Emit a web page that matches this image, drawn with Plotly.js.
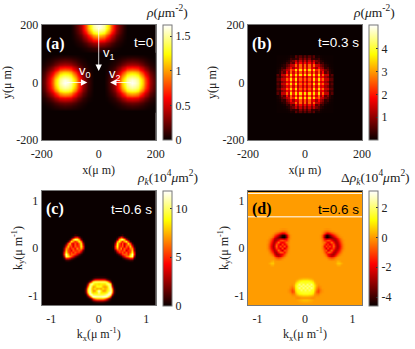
<!DOCTYPE html>
<html><head><meta charset="utf-8">
<script src="https://cdn.plot.ly/plotly-3.0.1.min.js"></script>
<style>html,body{margin:0;padding:0;background:#fff}#g{width:415px;height:349px}</style>
</head><body><div id="g"></div>
<script>
// Panel (a): one quadrant of a cloud's density (all three clouds share it)
const aQuad=[
[1.65,1.6,1.5,1.32,1.1,.85,.6,.4,.25,.14,.07,0],
[1.6,1.56,1.47,1.3,1.08,.83,.58,.39,.24,.13,.065,0],
[1.5,1.47,1.39,1.22,1,.78,.56,.36,.22,.12,.06,0],
[1.32,1.3,1.22,1.05,.85,.65,.46,.31,.19,.1,.05,0],
[1.1,1.08,1,.85,.67,.52,.37,.24,.15,.08,.04,0],
[.85,.83,.78,.65,.52,.39,.28,.18,.11,.06,.03,0],
[.6,.58,.56,.46,.37,.28,.19,.12,.07,.04,.015,0],
[.4,.39,.36,.31,.24,.18,.12,.08,.05,.025,.01,0],
[.25,.24,.22,.19,.15,.11,.07,.05,.03,.01,0,0],
[.14,.13,.12,.1,.08,.06,.04,.025,.01,0,0,0],
[.07,.065,.06,.05,.04,.03,.015,.01,0,0,0,0],
[0,0,0,0,0,0,0,0,0,0,0,0]
];
const aOffset=[-99,-90,-81,-72,-63,-54,-45,-36,-27,-18,-9,0,9,18,27,36,45,54,63,72,81,90,99];
const aCentersX=[-118,0,118], aCentersY=[0,200,0];
const aFull=(()=>{const rows=aQuad.map(r=>r.slice(1).reverse().concat(r));return rows.slice(1).reverse().concat(rows);})();
// Panel (b): lattice in the central cloud
const bX=[-96,-88,-80,-72,-64,-56,-48,-40,-32,-24,-16,-8,0,8,16,24,32,40,48,56,64,72,80,88,96];
const bY=[-101,-93,-85,-77,-69,-61,-53,-45,-37,-29,-21,-13,-5,3,11,19,27,35,43,51,59,67,75,83,91];
const bHalf=[
[2.6,1.7,2.6,1.7,3.5,2,3.5,2,2.6,1.4,1.4,.4,.6],
[2.1,1.3,2.1,1.3,2.5,1.5,2.5,1.5,1.8,1.1,.9,.3,.4],
[2.6,1.7,2.6,1.7,3.5,2,3.5,2,2.6,1.4,1.4,.6,.6],
[2.1,1.3,2.1,1.5,2.5,1.5,2.5,1.5,1.8,1.1,.9,.3,.4],
[3.5,2,3.5,2,3.5,2,3.5,1.5,2.6,1.4,1.4,.3,.6],
[2.5,1.5,2.5,1.5,2.5,1.5,2.5,1.1,1.8,.6,.9,.25,.1],
[3.5,2,3.5,2,3.5,2,2.6,1.4,1.4,.8,.6,.2,.1],
[2.5,1.5,2.5,1.5,1.8,1.1,1.8,1.1,.9,.3,.4,.1,.05],
[2.6,1.4,2.6,1.4,2.6,1.4,1.4,.8,.6,.25,.15,.05,.03],
[1.8,1.1,1.8,1.1,1.8,.6,.9,.3,.4,.1,.05,.03,.02],
[1.4,.8,1.4,.8,1.4,.8,.6,.25,.15,.05,.03,.02,.02],
[.9,.5,.9,.3,.4,.25,.4,.1,.05,.03,.02,.02,.02],
[.6,.3,.6,.3,.6,.1,.15,.05,.03,.02,.02,.02,.02]
];
const bRows=bHalf.map(r=>r.slice(1).reverse().concat(r));
const bZ=bRows.slice(1).reverse().concat(bRows);
// Panel (c): momentum density patches
const cSideX=[-.78,-.74,-.7,-.66,-.62,-.58,-.54,-.5,-.46,-.42,-.38,-.34,-.3];
const cSideXR=[.3,.34,.38,.42,.46,.5,.54,.58,.62,.66,.7,.74,.78];
const cSideY=[.27,.226,.182,.138,.094,.05,.006,-.038,-.082,-.126,-.17,-.214,-.258,-.302];
const cSideZ=[
[0,0,0,0,0,0,0,.6,.3,0,0,0,0],
[0,0,0,0,0,.3,1.5,4,5,2.5,.4,0,0],
[0,0,0,0,.8,3,8,10.5,10,7.5,2,.1,0],
[0,0,0,1,5,9,7,4.5,6,9,7,1,0],
[0,0,1,5.5,8.5,5,3.5,6,4,6,9,3,.1],
[0,.7,4.5,8,5,6,3.5,6,5,5,9,5,.3],
[0,2,7,6.5,4,5,6,4,7,5,7.5,4.5,.2],
[0,2.5,8,5.5,5,3.5,6,5,5,6,5,1.5,0],
[.1,4,9,6,4.5,6,4.5,6,5,5,2.5,.4,0],
[.1,4.5,11,8,5,6,6,5,3.5,1.5,.4,0,0],
[0,2.5,10,9,7,6,4,2,.8,.2,0,0,0],
[0,.7,4,4,3,2,1,.3,0,0,0,0,0],
[0,0,.6,.7,.4,.2,0,0,0,0,0,0,0],
[0,0,0,0,0,0,0,0,0,0,0,0,0]
];
const cLowX=[-.32,-.28,-.24,-.2,-.16,-.12,-.08,-.04,0,.04,.08,.12,.16,.2,.24,.28,.32,.36];
const cLowY=[-.62,-.665,-.71,-.755,-.8,-.845,-.89,-.935,-.98,-1.025,-1.07,-1.115,-1.16];
const cLowZ=[
[0,0,0,0,0,.1,.3,.4,.4,.4,.4,.3,.1,0,0,0,0,0],
[0,0,0,.1,.8,2,4,4.5,4.5,4.5,4.5,4,2,.8,.2,0,0,0],
[0,0,.2,2,6,9,10,10,10,10,10,10,9,6,2,.2,0,0],
[0,0,2,9,11,10,8.5,8.5,8,8.5,8.5,8.5,10,10.5,8,1.5,0,0],
[0,.5,6,11,9,7,7.5,9,9,9,7.5,7,7.5,10,10.5,5,.4,0],
[0,1.5,8.5,11,8,7.5,8.5,7,7.5,7,8.5,7.5,8,9.5,11,8,1,0],
[0,2,9,11,8.5,7,7,9,11.5,9,7,7,8.5,9.5,11,9,1.5,0],
[0,1.5,8,11.5,9,8,8.5,8.5,10.5,8.5,8.5,8.5,9,11,11.5,8,1.2,0],
[0,.2,4.5,10.5,11.5,10,9.5,9.5,9.5,9.5,9.5,10,11,11.5,9.5,4,.4,0],
[0,0,1,4.5,9.5,11.5,11.5,11,11,11,11.5,11.5,11,8.5,4,.6,0,0],
[0,0,0,.4,2,4.5,6.5,7.5,7.5,7.5,7.5,6.5,4.5,2,.5,0,0,0],
[0,0,0,0,.1,.4,.8,1.2,1.3,1.3,1.2,.8,.4,.1,0,0,0,0],
[0,0,0,0,0,0,0,0,0,0,0,0,0,0,0,0,0,0]
];
// Panel (d): momentum density difference patches
const dSideX=[-.84,-.8,-.76,-.72,-.68,-.64,-.6,-.56,-.52,-.48,-.44,-.4,-.36,-.32,-.28];
const dSideXR=[.28,.32,.36,.4,.44,.48,.52,.56,.6,.64,.68,.72,.76,.8,.84];
const dSideY=[.4,.36,.32,.28,.24,.2,.16,.12,.08,.04,0,-.04,-.08,-.12,-.16,-.2,-.24,-.28,-.32,-.36,-.4];
const dSideZ=[
[0,0,0,0,0,0,0,0,-.05,-.1,-.1,-.05,0,0,0],
[0,0,0,0,0,0,-.1,-.2,-.4,-.6,-.6,-.4,-.1,0,0],
[0,0,0,0,-.1,-.3,-.6,-1,-1.6,-2.1,-1.9,-1,-.3,0,0],
[0,0,0,-.1,-.4,-.9,-1.6,-2.4,-3.4,-4.3,-4.4,-2.8,-.9,-.1,0],
[0,0,-.1,-.3,-.9,-1.7,-2.5,-3.2,-3.8,-4.6,-4.6,-3.2,-1,-.1,0],
[0,0,-.2,-.7,-1.5,-2.4,-2.8,-2.9,-2.7,-3,-3.2,-2.2,-.7,-.1,0],
[0,-.1,-.4,-1.1,-2.1,-2.8,-2.6,-1.9,-1,-.8,-1.2,-1.4,-.5,0,0],
[0,-.1,-.6,-1.5,-2.5,-2.7,-1.7,-.4,-1.7,-2,-1.5,-.5,-.3,0,0],
[0,-.2,-.8,-1.8,-2.7,-2.4,-.7,-1.6,-2.3,-.9,-2,-1.2,-.2,0,0],
[0,-.2,-.9,-2,-2.8,-2.1,-.4,-2,-.8,-2,-.7,-2,-.4,0,0],
[0,-.2,-.8,-1.8,-2.7,-2.4,-1,-1.6,-2.2,-.7,-2.5,-1.3,-.4,0,0],
[0,-.1,-.5,-1.4,-2.3,-2.7,-2,-.5,-1.6,-2.5,-.8,-1,-.2,0,0],
[0,0,-.3,-.9,-1.7,-2.6,-2.7,-1.6,-.6,-.8,-1.7,-.7,-.1,0,0],
[0,0,-.1,-.4,-1,-2,-2.8,-2.7,-2.2,-1.8,-1,-.3,0,0,0],
[0,0,0,-.1,-.4,-1.1,-2.1,-2.5,-2.1,-1.2,-.5,-.1,0,0,0],
[0,0,0,0,-.1,-.4,-.9,-1.2,-.9,-.5,-.2,0,0,0,0],
[0,0,0,0,0,-.1,-.3,-.4,-.3,-.1,0,0,0,0,0],
[0,0,0,.2,.3,0,0,0,0,0,0,0,0,0,0],
[0,0,.2,.5,.5,.1,0,0,0,0,0,0,0,0,0],
[0,0,0,.2,.2,0,0,0,0,0,0,0,0,0,0],
[0,0,0,0,0,0,0,0,0,0,0,0,0,0,0]
];
const dLowX=[-.4,-.36,-.32,-.28,-.24,-.2,-.16,-.12,-.08,-.04,0,.04,.08,.12,.16,.2,.24,.28,.32,.36,.4];
const dLowY=[-.6,-.64,-.68,-.72,-.76,-.8,-.84,-.88,-.92,-.96,-1,-1.04,-1.08,-1.12,-1.16];
const dLowZ=[
[0,0,0,0,0,0,0,0,0,0,0,0,0,0,0,0,0,0,0,0,0],
[0,0,0,0,0,0,.05,.2,.3,.4,.4,.4,.3,.2,.05,0,0,0,0,0,0],
[0,0,0,0,0,.1,.5,.9,1.1,1.2,1.2,1.2,1.1,.9,.5,.1,0,0,0,0,0],
[0,0,0,0,.05,.5,1.1,1.4,1.6,1.4,1.4,1.4,1.6,1.4,1.1,.5,.05,0,0,0,0],
[0,0,0,-.1,.2,.9,1.4,2.3,1.4,2.3,1.4,2.3,1.4,2.3,1.4,.9,.2,-.1,0,0,0],
[0,0,-.1,-.2,.2,1,1.6,1.4,2.3,1.4,2.3,1.4,2.3,1.4,1.6,1,.2,-.2,-.1,0,0],
[0,0,-.2,-.5,0,.9,1.5,2.3,1.4,2.3,1.4,2.3,1.4,2.3,1.5,.9,0,-.5,-.2,0,0],
[0,-.1,-.4,-.9,-.3,.7,1.3,1.4,2,1.4,2,1.4,2,1.4,1.3,.7,-.3,-.9,-.4,-.1,0],
[0,-.1,-.3,-1,-.6,.4,1.1,1.3,1.4,1.5,1.5,1.5,1.4,1.3,1.1,.4,-.6,-1,-.3,-.1,0],
[0,0,-.1,-.4,-.3,.05,.7,1.1,1.2,1.3,1.3,1.3,1.2,1.1,.7,.05,-.3,-.4,-.1,0,0],
[0,0,0,-.1,-.1,-.1,.1,.3,.4,.5,.5,.5,.4,.3,.1,-.1,-.1,-.1,0,0,0],
[0,0,0,0,0,-.1,-.2,-.2,-.1,-.1,-.1,-.1,-.1,-.2,-.2,-.1,0,0,0,0,0],
[0,0,0,0,0,0,.1,.2,.3,.4,.4,.4,.3,.2,.1,0,0,0,0,0,0],
[0,0,0,0,0,0,0,.1,.15,.2,.2,.2,.15,.1,0,0,0,0,0,0,0],
[0,0,0,0,0,0,0,0,0,0,0,0,0,0,0,0,0,0,0,0,0]
];
// Flat backgrounds of the panels
const posEdge=[-200,200], momEdge=[-1.2,1.2], flat=[[0,0],[0,0]];
const hot=[[0,'#0a0000'],[.365,'#ff0000'],[.746,'#ffff00'],[1,'#ffffff']];
const posTicks=[0,200,-200], momTicks=[-1,0,1];
const aTicks=[0,.5,1,1.5], bTicks=[1,2,3,4], cTicks=[0,5,10], dTicks=[-4,-2,0,2];
const rev=m=>m.map(r=>[...r].reverse());
const W=415,H=349, serif='Liberation Serif, serif', sans='Liberation Sans, sans-serif', ink='#222';
const px=v=>v/W, py=v=>1-v/H;
const cb=(left,top,vals)=>({x:px(left),xanchor:'left',y:py(top),yanchor:'top',lenmode:'pixels',len:115,thicknessmode:'pixels',thickness:9,xpad:0,ypad:0,outlinecolor:'#777',outlinewidth:1,ticks:'inside',ticklen:2,tickcolor:'#333',tickvals:vals,ticktext:vals.map(String),tickfont:{family:serif,size:12,color:ink}});
const hm=(xa,ya,x,y,z,lo,hi,smooth,bar)=>({type:'heatmap',x,y,z,xaxis:xa,yaxis:ya,zmin:lo,zmax:hi,colorscale:hot,zsmooth:smooth,hoverinfo:'skip',showscale:!!bar,colorbar:bar});
const traces=[
 hm('x','y',posEdge,posEdge,flat,0,1.66,false,cb(162.5,25,aTicks)),
 ...aCentersX.map((c,i)=>hm('x','y',aOffset.map(o=>o+c),aOffset.map(o=>o+aCentersY[i]),aFull,0,1.66,'best')),
 hm('x2','y2',posEdge,posEdge,flat,0,5.05,false,cb(369,25,bTicks)),
 hm('x2','y2',bX,bY,bZ,0,5.05,false),
 hm('x3','y3',momEdge,momEdge,flat,0,11.8,false,cb(162.5,191,cTicks)),
 hm('x3','y3',cSideX,cSideY,cSideZ,0,11.8,'best'),
 hm('x3','y3',cSideXR,cSideY,rev(cSideZ),0,11.8,'best'),
 hm('x3','y3',cLowX,cLowY,cLowZ,0,11.8,'best'),
 hm('x4','y4',momEdge,momEdge,flat,-4.6,3.1,false,cb(369,191,dTicks)),
 hm('x4','y4',dSideX,dSideY,dSideZ,-4.6,3.1,'best'),
 hm('x4','y4',dSideXR,dSideY,rev(dSideZ),-4.6,3.1,'best'),
 hm('x4','y4',dLowX,dLowY,dLowZ,-4.6,3.1,'best')
];
const ax=(l,r,range,ticks,title,anchor,standoff,isX)=>({domain:[l,r],range,tickvals:ticks,ticktext:ticks.map(String),ticks:isX?'outside':'',ticklen:isX?3:0,tickcolor:'rgba(0,0,0,0)',showgrid:false,zeroline:false,showline:true,mirror:true,linecolor:'#777',linewidth:1,tickfont:{family:serif,size:12,color:ink},title:{text:title,font:{family:serif,size:12,color:ink},standoff},anchor});
const mu='μ m';
const layout={width:W,height:H,margin:{l:0,r:0,t:0,b:0},paper_bgcolor:'#fff',showlegend:false,
 xaxis: ax(px(41.7),px(155.7),[-200,200],posTicks,'x('+mu+')','y',5,true),
 yaxis: ax(py(140),py(25),[-200,200],posTicks,'y('+mu+')','x',3),
 xaxis2:ax(px(248),px(362),[-200,200],posTicks,'x('+mu+')','y2',5,true),
 yaxis2:ax(py(140),py(25),[-200,200],posTicks,'y('+mu+')','x2',3),
 xaxis3:ax(px(41.7),px(155.7),[-1.2,1.2],momTicks,'k<sub>x</sub>('+mu+'<sup>-1</sup>)','y3',3,true),
 yaxis3:ax(py(305),py(191),[-1.2,1.2],momTicks,'k<sub>y</sub>('+mu+'<sup>-1</sup>)','x3',3),
 xaxis4:ax(px(248),px(362),[-1.2,1.2],momTicks,'k<sub>x</sub>('+mu+'<sup>-1</sup>)','y4',3,true),
 yaxis4:ax(py(305),py(191),[-1.2,1.2],momTicks,'k<sub>y</sub>('+mu+'<sup>-1</sup>)','x4',3),
 shapes:[
  {type:'line',xref:'x4',yref:'y4',x0:-1.2,x1:1.2,y0:1.19,y1:1.19,line:{color:'#000',width:1}},
  {type:'line',xref:'x4',yref:'y4',x0:-1.2,x1:1.2,y0:1.15,y1:1.15,line:{color:'#fff',width:1}},
  {type:'line',xref:'x4',yref:'y4',x0:-1.2,x1:1.2,y0:.66,y1:.66,line:{color:'#ffe0b0',width:1.5}}
 ],
 annotations:[]
};
const note=(x,y,text,font,anchor)=>layout.annotations.push({xref:'paper',yref:'paper',x:px(x),y:py(y),text,showarrow:false,xanchor:anchor||'center',yanchor:'middle',font,borderpad:0});
const panel={family:serif,size:16,color:'#fff'}, stamp={family:sans,size:13.5,color:'#fff'}, vel={family:sans,size:13,color:'#fff'}, unit={family:serif,size:13.5,color:ink};
note(55,44,'<b>(a)</b>',panel); note(262,44,'<b>(b)</b>',panel); note(55,209,'<b>(c)</b>',panel);
note(262,209,'<b>(d)</b>',{family:serif,size:16,color:'#000'});
note(143,43,'t=0',stamp); note(338,43,'t=0.3 s',stamp); note(131,209,'t=0.6 s',stamp);
note(338,209,'t=0.6 s',{family:sans,size:13.5,color:'#000'});
note(85,71,'v<sub>0</sub>',vel); note(109,53,'v<sub>1</sub>',vel); note(115,74,'v<sub>2</sub>',vel);
note(167,11,'<i>ρ</i>(<i>μ</i>m<sup>-2</sup>)',unit); note(374,11,'<i>ρ</i>(<i>μ</i>m<sup>-2</sup>)',unit);
note(167,177,'<i>ρ<sub>k</sub></i>(10<sup>4</sup><i>μ</i>m<sup>2</sup>)',unit);
note(375,177,'Δ<i>ρ<sub>k</sub></i>(10<sup>4</sup><i>μ</i>m<sup>2</sup>)',unit);
const arrows=[[-118,0,-40,0],[0,195,0,40],[118,0,40,0]];
arrows.forEach(a=>layout.annotations.push({xref:'x',yref:'y',axref:'x',ayref:'y',ax:a[0],ay:a[1],x:a[2],y:a[3],text:'',showarrow:true,arrowcolor:'#fff',arrowwidth:.8,arrowhead:2,arrowsize:1.6}));
Plotly.newPlot('g',traces,layout,{displayModeBar:false,staticPlot:true});
</script></body></html>
